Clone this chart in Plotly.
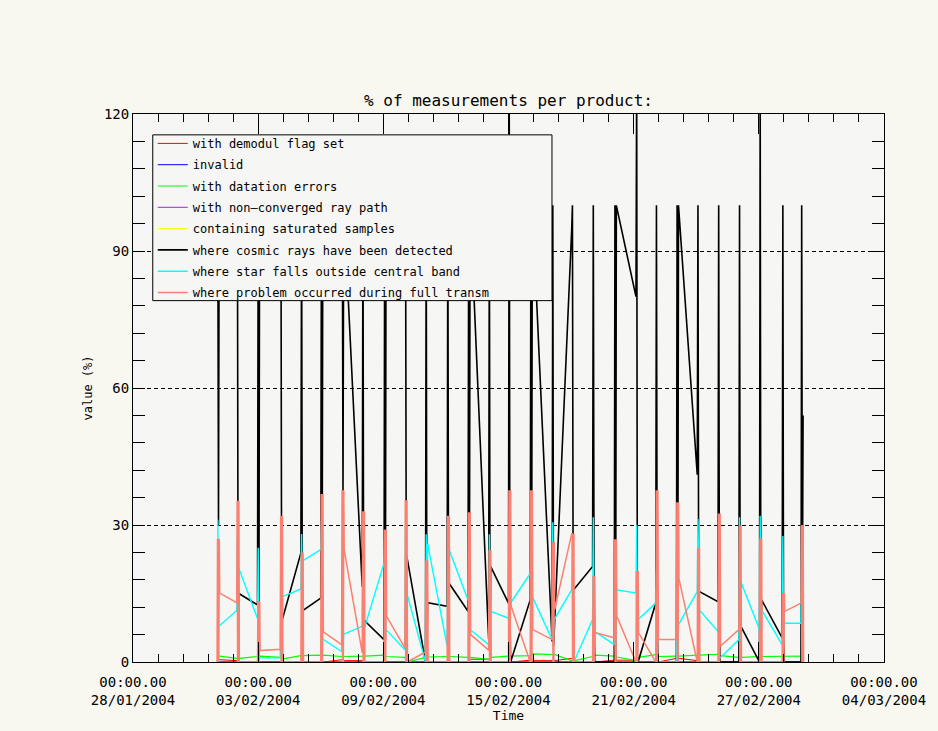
import pandas as pd
import plotly.graph_objects as go

# ---- data -------------------------------------------------------------
# start time of each product cluster (one cluster per day)
CLUSTER_TIMES = [
    "2004-02-01 00:45", "2004-02-01 23:20", "2004-02-02 23:15", "2004-02-04 01:25",
    "2004-02-05 01:10", "2004-02-06 00:00", "2004-02-07 00:00", "2004-02-07 23:45",
    "2004-02-09 00:45", "2004-02-10 00:45", "2004-02-11 00:30", "2004-02-12 01:25",
    "2004-02-13 01:25", "2004-02-14 01:10", "2004-02-15 00:00", "2004-02-16 01:00",
    "2004-02-17 02:10", "2004-02-18 00:45", "2004-02-19 00:45", "2004-02-20 01:40",
    "2004-02-21 02:40", "2004-02-22 01:25", "2004-02-23 01:10", "2004-02-24 01:10",
    "2004-02-25 01:00", "2004-02-26 01:00", "2004-02-27 00:45", "2004-02-28 02:50",
    "2004-02-29 00:30",
]

# per cluster: (first value, lowest value, highest value, last value)
COSMIC = [
    (100, 30, 100, 100), (100, 3.5, 100, 15.0), (12.5, 6.0, 100, 100), (100, 9.3, 100, 9.3),
    (23.9, 11.3, 100, 11.3), (14.0, 14.0, 100, 100), (100, 37.0, 100, 100), (16.5, 9.1, 100, 9.1),
    (4.9, 4.9, 100, 100), (100, 23.0, 100, 23.0), (0.0, 0.0, 100, 13.0), (12.2, 12.2, 100, 17.2),
    (11.1, 11.1, 100, 100), (5.0, 5.0, 100, 20.9), (12.9, 12.9, 128, 0.0), (13.6, 13.6, 100, 100),
    (4.5, 3.5, 100, 6.4), (95.0, 15.9, 100, 15.9), (20.9, 20.9, 100, 0.0), (0.0, 0.0, 100, 100),
    (80.0, 0.0, 128, 0.0), (12.9, 12.2, 100, 0.0), (0.0, 0.0, 100, 100), (41.0, 15.4, 100, 15.4),
    (13.2, 13.2, 100, 0.0), (0.0, 0.0, 100, 7.8), (0.0, 0.0, 128, 13.6), (5.3, 5.3, 100, 0.0),
    (0.0, 14.0, 100, 54.0),
]
STAR = [
    (31.0, 7.9, 31.0, 7.9), (11.3, 0.0, 27.0, 20.5), (9.5, 1.0, 25.0, 0.9), (0.9, 0.9, 29.0, 14.3),
    (16.0, 16.0, 28.0, 22.2), (24.6, 5.0, 31.0, 5.0), (2.3, 2.3, 28.0, 6.1), (7.8, 7.4, 30.0, 7.4),
    (21.6, 7.1, 28.0, 7.1), (2.7, 2.7, 30.0, 15.0), (0.0, 0.0, 28.0, 25.9), (3.5, 3.5, 28.0, 24.5),
    (13.6, 7.1, 30.0, 7.1), (3.8, 3.8, 28.0, 11.1), (9.6, 9.6, 30.0, 12.9), (19.4, 14.3, 22.0, 14.3),
    (4.9, 4.9, 30.6, 9.3), (15.8, 0.0, 26.0, 0.0), (9.3, 6.7, 31.7, 6.7), (3.8, 3.8, 26.0, 15.8),
    (15.1, 9.3, 30.0, 9.3), (12.9, 0.0, 20.0, 0.0), (0.0, 0.0, 20.0, 8.2), (15.4, 11.4, 31.3, 11.4),
    (6.7, 0.9, 22.0, 0.9), (4.9, 4.9, 31.7, 17.5), (7.1, 7.1, 32.0, 11.4), (3.8, 3.8, 27.6, 8.5),
    (8.5, 4.0, 27.5, 8.5),
]
TRANSM = [
    (0.0, 0.0, 27.0, 15.1), (13.0, 0.0, 35.3, 0.0), (0.0, 0.0, 13.3, 2.5), (2.8, 0.0, 32.0, 0.0),
    (0.0, 0.0, 24.0, 0.0), (0.0, 0.0, 36.8, 6.6), (3.8, 0.0, 37.6, 24.5), (2.0, 0.0, 33.0, 0.0),
    (0.0, 0.0, 29.0, 10.0), (3.1, 0.0, 35.4, 0.0), (2.2, 0.0, 22.3, 0.0), (0.0, 0.0, 32.0, 0.0),
    (0.0, 0.0, 32.8, 6.0), (2.6, 0.0, 24.5, 0.0), (0.0, 0.0, 37.6, 12.2), (0.0, 0.0, 37.6, 7.1),
    (4.9, 0.0, 26.3, 11.5), (28.1, 0.0, 28.1, 0.0), (0.0, 0.0, 18.9, 6.4), (5.3, 0.0, 26.9, 10.0),
    (0.0, 0.0, 19.9, 6.4), (0.0, 0.0, 37.6, 4.9), (4.9, 0.0, 35.0, 18.2), (0.0, 0.0, 25.0, 0.0),
    (0.0, 0.0, 32.5, 3.5), (7.1, 0.0, 29.9, 0.0), (0.0, 0.0, 27.0, 0.0), (0.0, 0.0, 15.1, 11.1),
    (12.9, 0.0, 30.0, 0.0),
]
# per cluster: (first value, last value)
DATATION = [
    (1.3, 1.3), (0.8, 0.8), (1.2, 1.3), (1.0, 0.7), (1.4, 1.4), (1.5, 1.5), (1.2, 1.2), (1.3, 1.3),
    (1.5, 1.2), (1.0, 0.0), (1.0, 1.1), (1.2, 1.2), (1.0, 1.0), (0.6, 1.0), (1.3, 1.3), (1.4, 1.8),
    (1.6, 1.6), (0.3, 0.3), (1.2, 1.5), (1.3, 1.1), (0.3, 1.0), (1.6, 1.2), (1.3, 1.3), (1.5, 1.5),
    (1.7, 1.4), (1.0, 1.0), (1.2, 1.2), (1.3, 1.3), (1.3, 1.3),
]
DEMODUL = [
    (0.8, 0.5), (0.3, 0.0), (0.0, 0.0), (0.0, 0.0), (0.0, 0.0), (0.0, 0.0), (0.5, 0.3), (0.3, 0.0),
    (0.0, 0.0), (0.0, 0.0), (0.0, 0.0), (0.0, 0.0), (0.0, 0.6), (0.6, 0.0), (0.0, 0.0), (0.4, 0.3),
    (0.3, 0.3), (0.8, 0.0), (0.0, 0.0), (0.4, 0.4), (0.4, 0.0), (0.0, 0.0), (0.8, 0.8), (0.3, 0.0),
    (0.0, 0.0), (0.0, 0.0), (0.0, 0.0), (0.0, 0.0), (0.0, 0.0),
]
INVALID = [(0.0, 0.0)] * len(CLUSTER_TIMES)
NONCONV = [(0.0, 0.0)] * len(CLUSTER_TIMES)
SATURATED = [(0.0, 0.0)] * len(CLUSTER_TIMES)

X_TICKS = ["2004-01-28", "2004-02-03", "2004-02-09", "2004-02-15",
           "2004-02-21", "2004-02-27", "2004-03-04"]
X_TICK_TEXT = ["00:00.00<br>28/01/2004", "00:00.00<br>03/02/2004", "00:00.00<br>09/02/2004",
               "00:00.00<br>15/02/2004", "00:00.00<br>21/02/2004", "00:00.00<br>27/02/2004",
               "00:00.00<br>04/03/2004"]
Y_TICKS = [0, 30, 60, 90, 120]

# ---- expand the cluster summaries into sample points -------------------
TIMES = [pd.Timestamp(t) for t in CLUSTER_TIMES]
THICK_H = [0.0, 0.5, 1.0, 1.5, 2.0, 2.5, 3.0]   # sample spacing (hours) in a cluster
THIN_H = [0.0, 0.8, 1.6, 2.4]


def expand4(stats, steps):
    xs, ys = [], []
    for t, (vin, lo, hi, vout) in zip(TIMES, stats):
        if len(steps) == 7:
            vals = (vin, hi, lo, hi, lo, hi, vout)
        else:
            vals = (vin, hi, lo, vout)
        for dh, v in zip(steps, vals):
            xs.append(t + pd.Timedelta(hours=dh))
            ys.append(v)
    return xs, ys


def expand2(stats):
    xs, ys = [], []
    for t, (vin, vout) in zip(TIMES, stats):
        for dh, v in ((0.0, vin), (3.0, vout)):
            xs.append(t + pd.Timedelta(hours=dh))
            ys.append(v)
    return xs, ys


FONT = "DejaVu Sans Mono"
PAPER = "#f8f8f0"
PLOTBG = "#f6f6f4"

# drawing order (legend order controlled by legendrank)
series = [
    ("containing saturated samples", "#ffff00", expand2(SATURATED), 5, 1),
    ("invalid", "#0000ff", expand2(INVALID), 2, 1),
    ("with demodul flag set", "#ff0000", expand2(DEMODUL), 1, 1),
    ("with non\u2014converged ray path", "#a020f0", expand2(NONCONV), 4, 1),
    ("with datation errors", "#00ff00", expand2(DATATION), 3, 1.2),
    ("where cosmic rays have been detected", "#000000", expand4(COSMIC, THIN_H), 6, 1.6),
    ("where star falls outside central band", "#00ffff", expand4(STAR, THIN_H), 7, 1.4),
    ("where problem occurred during full transm", "#fa8072", expand4(TRANSM, THICK_H), 8, 1.5),
]

fig = go.Figure()
for name, color, (xs, ys), rank, lw in series:
    fig.add_trace(go.Scatter(
        x=xs, y=ys, mode="lines", name=name, legendrank=rank, legendgroup=name,
        line=dict(color=color, width=lw), hoverinfo="skip",
    ))

W, H = 938, 731
L, R, T, B = 133, 45, 114, 65
pw, ph = W - L - R, H - T - B


def px_x(x):
    return (x - L) / pw


def px_y(y):
    return (H - B - y) / ph


fig.update_layout(
    width=W, height=H,
    margin=dict(l=L, r=R, t=T, b=B),
    paper_bgcolor=PAPER, plot_bgcolor=PLOTBG,
    font=dict(family=FONT, color="black", size=14),
    title=dict(text="% of measurements per product:", x=0.5, xanchor="center",
               xref="paper", y=1 - 100 / H, yref="container", yanchor="middle",
               font=dict(family=FONT, size=16, color="black")),
    showlegend=True,
    legend=dict(x=px_x(153), y=px_y(129), xanchor="left", yanchor="top",
                bgcolor="rgba(0,0,0,0)", borderwidth=0,
                font=dict(family=FONT, size=12, color="black"),
                tracegroupgap=2.3, traceorder="grouped"),
    shapes=[dict(type="rect", xref="paper", yref="paper",
                 x0=px_x(153), x1=px_x(557), y0=px_y(302), y1=px_y(135),
                 fillcolor=PLOTBG, line=dict(color="black", width=1), layer="above")],
)

fig.update_xaxes(
    type="date", range=["2004-01-28", "2004-03-04"],
    tickmode="array", tickvals=X_TICKS, ticktext=X_TICK_TEXT,
    ticks="inside", ticklen=20, tickcolor="black", tickwidth=1,
    minor=dict(dtick=1.2 * 86400000, tick0="2004-01-28", ticks="inside",
               ticklen=8, tickcolor="black", tickwidth=1, showgrid=False),
    showline=True, linecolor="black", linewidth=1, mirror="ticks",
    showgrid=False, zeroline=False,
    tickfont=dict(family=FONT, size=14), ticklabelstandoff=7,
    title=dict(text="Time", font=dict(family=FONT, size=13), standoff=2),
)
fig.update_yaxes(
    range=[0, 120], tickmode="array", tickvals=Y_TICKS,
    ticks="inside", ticklen=12, tickcolor="black", tickwidth=1,
    minor=dict(dtick=6, tick0=0, ticks="inside", ticklen=12,
               tickcolor="black", tickwidth=1, showgrid=False),
    showline=True, linecolor="black", linewidth=1, mirror="ticks",
    showgrid=True, gridcolor="black", gridwidth=1, griddash="4px,3px",
    zeroline=False,
    tickfont=dict(family=FONT, size=14),
    title=dict(text="value (%)", font=dict(family=FONT, size=12), standoff=8),
)

fig.write_html("out.html",
               config={"displayModeBar": False},
               post_script="document.body.style.margin='0px';"
                           "document.body.style.background='" + PAPER + "';")
